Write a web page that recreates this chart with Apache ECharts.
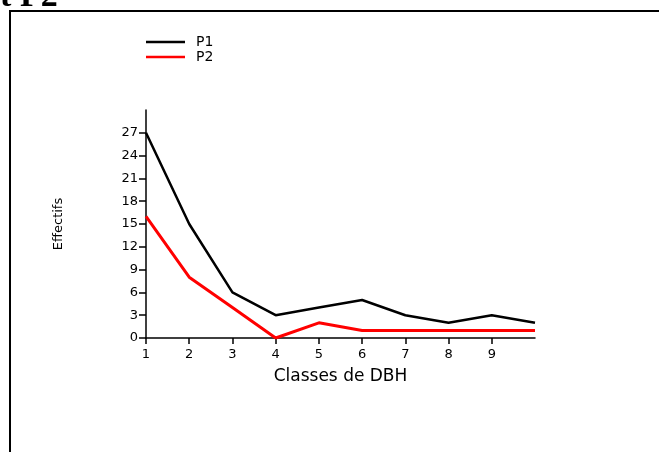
<!DOCTYPE html>
<html>
<head>
<meta charset="utf-8">
<script src="https://cdn.jsdelivr.net/npm/echarts@6/dist/echarts.min.js"></script>
<style>html,body{margin:0;padding:0;background:#fff;}#c{width:659px;height:452px;}</style>
</head>
<body>
<div id="c"></div>
<script>
var classes = [1, 2, 3, 4, 5, 6, 7, 8, 9, 10];
var p1 = [27, 15, 6, 3, 4, 5, 3, 2, 3, 2];
var p2 = [16, 8, 4, 0, 2, 1, 1, 1, 1, 1];
var xTicks = [1, 2, 3, 4, 5, 6, 7, 8, 9];
var yTicks = [0, 3, 6, 9, 12, 15, 18, 21, 24, 27];

var chart = echarts.init(document.getElementById('c'), null, {renderer: 'canvas'});
var font = '"DejaVu Sans", Arial, sans-serif';
chart.setOption({
  animation: false,
  backgroundColor: '#fff',
  legend: {
    left: 146, top: 35, orient: 'vertical', padding: 0, itemWidth: 39, itemHeight: 2.5, itemGap: 1,
    icon: 'rect',
    textStyle: {fontFamily: font, fontSize: 14, color: '#000', lineHeight: 14, padding: [0, 0, 0, 6]},
    data: [
      {name: 'P1', itemStyle: {color: '#000'}},
      {name: 'P2', itemStyle: {color: '#f00'}}
    ]
  },
  grid: {left: 146, top: 110, width: 389, height: 228, containLabel: false},
  xAxis: {
    type: 'value', min: 1, max: 10,
    name: 'Classes de DBH', nameLocation: 'middle', nameGap: 30,
    nameTextStyle: {fontFamily: font, fontSize: 17, color: '#000'},
    axisLine: {show: true, lineStyle: {color: '#000', width: 1.5}},
    axisTick: {show: true, length: 6, lineStyle: {color: '#000', width: 1.5}, customValues: xTicks},
    axisLabel: {fontFamily: font, fontSize: 13, color: '#000', margin: 10, customValues: xTicks},
    splitLine: {show: false}
  },
  yAxis: {
    type: 'value', min: 0, max: 30,
    name: 'Effectifs', nameLocation: 'middle', nameGap: 81, nameRotate: 90,
    nameTextStyle: {fontFamily: font, fontSize: 13, color: '#000'},
    axisLine: {show: true, lineStyle: {color: '#000', width: 1.5}},
    axisTick: {show: true, length: 7, lineStyle: {color: '#000', width: 1.5}, customValues: yTicks},
    axisLabel: {fontFamily: font, fontSize: 13, color: '#000', margin: 8, customValues: yTicks},
    splitLine: {show: false}
  },
  series: [
    {name: 'P1', type: 'line', data: classes.map(function(c, i){return [c, p1[i]];}),
     symbol: 'none', lineStyle: {color: '#000', width: 2.5}, itemStyle: {color: '#000'}},
    {name: 'P2', type: 'line', data: classes.map(function(c, i){return [c, p2[i]];}),
     symbol: 'none', lineStyle: {color: '#f00', width: 3}, itemStyle: {color: '#f00'}}
  ],
  graphic: [
    {type: 'rect', shape: {x: 10, y: 10, width: 649, height: 2}, style: {fill: '#000'}},
    {type: 'rect', shape: {x: 9, y: 10, width: 2, height: 442}, style: {fill: '#000'}},
    {type: 'text', left: -15, top: -20, style: {text: 'et P2', font: 'bold 34px "Liberation Serif", "Times New Roman", serif', fill: '#000'}}
  ]
});
</script>
</body>
</html>
